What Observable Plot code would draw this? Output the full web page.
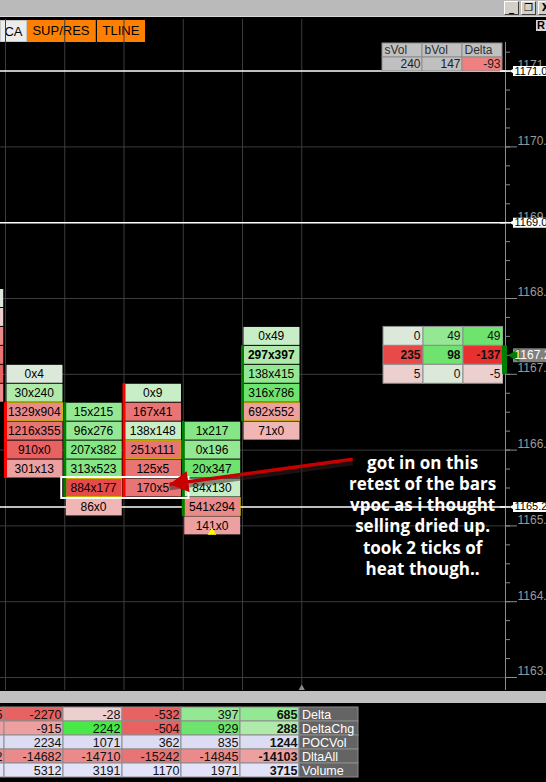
<!DOCTYPE html>
<html><head><meta charset="utf-8">
<script src="https://cdn.jsdelivr.net/npm/d3@7"></script>
<script src="https://cdn.jsdelivr.net/npm/@observablehq/plot@0.6"></script>
<style>
html,body{margin:0;padding:0;background:#000;}
#root{position:relative;width:546px;height:782px;overflow:hidden;background:#000;font-family:"Liberation Sans",Arial,sans-serif;}
.abs{position:absolute;}
#titlebar{left:0;top:0;width:546px;height:17px;background:#bababa;border-bottom:1px solid #d8d8d8;box-sizing:border-box;}
.wbtn{top:1px;width:15px;height:14px;background:#d4d0c8;border:1px solid;border-color:#fff #404040 #404040 #fff;box-sizing:border-box;font:bold 10px "DejaVu Sans",sans-serif;color:#000;text-align:center;line-height:12px;}
.tbtn{top:20px;height:22px;font:13px "Liberation Sans",Arial,sans-serif;color:#000;line-height:22px;text-align:center;box-sizing:border-box;}
#band{left:0;top:691px;width:546px;height:12px;background:#c0c0c0;}
</style></head><body><div id="root">
<div id="titlebar" class="abs"></div>
<div class="abs wbtn" style="left:504px">_</div>
<div class="abs wbtn" style="left:521px">&#x2750;</div>
<div class="abs wbtn" style="left:538px">X</div>
<div class="abs tbtn" style="left:0;width:27px;background:#ececec;border:1px solid #c8c8c8">CA</div>
<div class="abs tbtn" style="left:27px;width:69px;background:#ff8000;border-right:1px solid #c86400">SUP/RES</div>
<div class="abs tbtn" style="left:97px;width:48px;background:#ff8000">TLINE</div>
<div class="abs" style="left:536px;top:20px;width:12px;height:11px;background:#d4d4d4;font:bold 11px 'Liberation Sans',sans-serif;line-height:11px;color:#000;padding-left:1px">R</div>
<div id="band" class="abs"></div>
</div>
<script>
// ---------- data ----------
// footprint cells of the five visible bars (bid x ask at each price)
const cellBar   = [1,1,1,1,1,1, 2,2,2,2,2,2, 3,3,3,3,3,3, 4,4,4,4,4,4, 5,5,5,5,5,5];
const cellPrice = [1167,1166.75,1166.5,1166.25,1166,1165.75,
                   1166.5,1166.25,1166,1165.75,1165.5,1165.25,
                   1166.75,1166.5,1166.25,1166,1165.75,1165.5,
                   1166.25,1166,1165.75,1165.5,1165.25,1165,
                   1167.5,1167.25,1167,1166.75,1166.5,1166.25];
const cellBid   = [0,30,1329,1216,910,301, 15,96,207,313,884,86, 0,167,138,251,125,170, 1,0,20,84,541,141, 0,297,138,316,692,71];
const cellAsk   = [4,240,904,355,0,13, 215,276,382,523,177,0, 9,41,148,111,5,5, 217,196,347,130,294,0, 49,397,415,786,552,0];
// imbalance shade class (r = sell side, g = buy side, n = neutral)
const cellShade = ["n","g2","r3","r4","r5","r2", "g3","g3","g4","g4","r6","r1", "g1","r4","g1","r4","r4","r4",
                   "g4","g3","g5","g1","r3","r2", "g1","g2","g3","g5","r2","r1"];
// partially visible bar at the left edge
const partialPrice = [1168,1167.75,1167.5,1167.25,1167,1166.75];
const partialShade = ["n","r0","r3","r4","r5","r3"];
// bar open / close (the coloured body line at each bar's left edge)
const candleBar   = [1,2,3,4,5];
const candleOpen  = [1166.5,1165.5,1166.75,1165.25,1166.5];
const candleClose = [1165.75,1166.5,1165.5,1166.25,1167.25];
// price lines and current price
const levelPrices = [1171,1169,1165.25];
const currentPrice = 1167.25;
// current bar profile (sVol, bVol)
const profCols  = ["sVol","bVol","Delta"];
const profPrice = [1167.5,1167.25,1167];
const profSVol  = [0,235,5];
const profBVol  = [49,98,0];
const profShade = [["n","g3","g5"],["r6","g5","rx"],["r0","n","r0"]];
// bottom statistics table
const statRows   = ["Delta","DeltaChg","POCVol","DltaAll","Volume"];
const statCols   = ["b0","b1","b2","b3","b4","b5"];
const statDelta    = [-1355,-2270,-28,-532,397,685];
const statDeltaChg = [null,-915,2242,-504,929,288];
const statPOCVol   = [null,2234,1071,362,835,1244];
const statDltaAll  = [-12412,-14682,-14710,-15242,-14845,-14103];
const statVolume   = [null,5312,3191,1170,1971,3715];
const deltaShade    = ["r5","r5","r0","r5","g3","g3"];
const deltaChgShade = ["r2","r2","g6","r5","g5","g2"];
const dltaAllShade  = ["r3","r3","r3","r4","r3","r2"];
// annotation
const noteLines = ["got in on this","retest of the bars","vpoc as i thought","selling dried up.","took 2 ticks of","heat though.."];
const noteAt = {bar: 8.04, price: 1165.955};
const noteArrow = {bar1: 6.86, price1: 1165.88, bar2: 3.77, price2: 1165.55};
const vpocBox = {bar1: 2, bar2: 3, price: 1165.5};

// ---------- scales / styles ----------
const palette = {
  r6:"#e84a4a", r5:"#e86262", r4:"#e87474", r3:"#ea8a8a", r2:"#eda0a0", r1:"#f0b6b6", r0:"#eccfcf", rx:"#e83030",
  n:"#dce8da",
  g1:"#c8eec8", g2:"#b0eaaa", g3:"#94e894", g4:"#84e684", g5:"#6ee46e", g6:"#48e848",
  v1:"#dcdcf2", v2:"#e2e2f8"
};
const colorScale = {type:"ordinal", domain:Object.keys(palette), range:Object.values(palette)};
const yScale = {domain:[1163,1171], range:[677,70.6], axis:null};
const font = "Liberation Sans, Arial, sans-serif";
const root = document.getElementById("root");
function place(el, left, top){ el.style.position="absolute"; el.style.left=left+"px"; el.style.top=top+"px"; root.appendChild(el); }

// ---------- derived ----------
const cells = cellBar.map((bar,i)=>({bar, price:cellPrice[i], bid:cellBid[i], ask:cellAsk[i], shade:cellShade[i]}));
const partial = partialPrice.map((price,i)=>({bar:0, price, shade:partialShade[i]}));
const barIds = [...new Set(cellBar)];
const pocCells = barIds.map(b=>d3.greatest(cells.filter(c=>c.bar===b), c=>c.bid+c.ask));
const lastBar = d3.max(cellBar);
const boldCell = c => c.bar===lastBar && c.price===currentPrice;
const lowCell = d3.least(cells, c=>c.price);
const candles = candleBar.map((bar,i)=>({bar, open:candleOpen[i], close:candleClose[i]}));
const half = 0.125, cw = 0.97;
const gridPrices = d3.range(1163,1172).filter(p=>!levelPrices.includes(p));

// ---------- main footprint chart ----------
const cellOpts = {x1:"bar", x2:d=>d.bar+cw, y1:d=>d.price-half, y2:d=>d.price+half, insetTop:0.5, insetBottom:0.5, insetLeft:1.5};
const main = Plot.plot({
  width:505, height:690, marginTop:19, marginBottom:0, marginLeft:0, marginRight:0,
  x:{domain:[0,6], range:[-54.25,301.25], axis:null},
  y:yScale, color:colorScale,
  style:{background:"transparent", fontFamily:font, fontSize:"12px", overflow:"hidden"},
  marks:[
    Plot.ruleY(gridPrices, {stroke:"#3c3c3c"}),
    Plot.ruleX(d3.range(1,7), {stroke:"#3c3c3c"}),
    Plot.ruleY(levelPrices, {stroke:"#fff", strokeWidth:1.5}),
    Plot.rect(partial, {...cellOpts, fill:"shade"}),
    Plot.rect(cells, {...cellOpts, fill:"shade"}),
    Plot.rect(pocCells, {...cellOpts, fill:"none", stroke:"#c8b400", strokeWidth:1}),
    Plot.text(cells.filter(c=>!boldCell(c)), {x:d=>d.bar+cw/2, y:"price", text:d=>`${d.bid}x${d.ask}`, fill:"#000", fontSize:12}),
    Plot.text(cells.filter(boldCell), {x:d=>d.bar+cw/2, y:"price", text:d=>`${d.bid}x${d.ask}`, fill:"#000", fontSize:12, fontWeight:"bold"}),
    Plot.ruleX(candles.filter(d=>d.close<d.open), {x:"bar", y1:d=>Math.min(d.open,d.close)-half, y2:d=>Math.max(d.open,d.close)+half, stroke:"#ff0000", strokeWidth:3}),
    Plot.ruleX(candles.filter(d=>d.close>=d.open), {x:"bar", y1:d=>Math.min(d.open,d.close)-half, y2:d=>Math.max(d.open,d.close)+half, stroke:"#008000", strokeWidth:3}),
    Plot.dot([lowCell], {x:d=>d.bar+cw/2, y:d=>d.price-half, dy:-3, symbol:"triangle", r:3.2, fill:"#ffff00"}),
    Plot.rect([vpocBox], {x1:"bar1", x2:d=>d.bar2+cw, y1:d=>d.price-half, y2:d=>d.price+half, insetLeft:-3, insetRight:-7.5, insetTop:-1, insetBottom:-1, fill:"none", stroke:"#fff", strokeWidth:2}),
    Plot.link([noteArrow], {x1:"bar1", y1:"price1", x2:"bar2", y2:"price2", stroke:"#3a2020", strokeWidth:6, strokeOpacity:0.5, dy:3}),
    Plot.link([noteArrow], {x1:"bar1", y1:"price1", x2:"bar2", y2:"price2", stroke:"#c40000", strokeWidth:3.5}),
    Plot.dot([noteArrow], {x:"bar2", y:"price2", symbol:"triangle", r:8, rotate:262, dx:12.4, dy:-1.7, fill:"#c80000"}),
    Plot.text([noteLines.join("\n")], {x:()=>noteAt.bar, y:()=>noteAt.price, text:d=>d, lineAnchor:"top", lineHeight:1.25, fontFamily:"Open Sans", fontWeight:"bold", fontSize:17, fill:"#fff"}),
    Plot.dot([6], {x:d=>d, frameAnchor:"bottom", symbol:"triangle", r:2.5, dy:-2, fill:"#8a8a8a"})
  ]
});
place(main, 0, 0);

// ---------- current bar profile table ----------
const prof = [];
profPrice.forEach((price,i)=>{
  const vals = [profSVol[i], profBVol[i], profBVol[i]-profSVol[i]];
  profCols.forEach((col,j)=>prof.push({col, price, value:vals[j], shade:profShade[i][j]}));
});
const profPlot = Plot.plot({
  width:121, height:690, margin:0,
  x:{type:"band", domain:profCols, range:[0.5,120.5], padding:0, axis:null},
  y:yScale, color:colorScale,
  style:{background:"transparent", fontFamily:font, fontSize:"12px", overflow:"hidden"},
  marks:[
    Plot.rect(prof, {x:"col", y1:d=>d.price-half, y2:d=>d.price+half, fill:"shade", stroke:"#8c8c8c"}),
    Plot.text(prof.filter(d=>d.price!==currentPrice), {x:"col", y:"price", text:d=>String(d.value), textAnchor:"end", dx:17, fill:"#111", fontSize:12}),
    Plot.text(prof.filter(d=>d.price===currentPrice), {x:"col", y:"price", text:d=>String(d.value), textAnchor:"end", dx:17, fill:"#111", fontSize:12, fontWeight:"bold"})
  ]
});
place(profPlot, 382, 0);

// ---------- totals table (top right) ----------
const totVals = [d3.sum(profSVol), d3.sum(profBVol), d3.sum(profBVol)-d3.sum(profSVol)];
const totCells = profCols.flatMap((col,j)=>[{col,row:"h",text:col,fill:"#c0c0c0"},{col,row:"v",text:String(totVals[j]),fill:totVals[j]<0?"#f08080":"#c0c0c0"}]);
const totPlot = Plot.plot({
  width:122, height:29, margin:0,
  x:{type:"band", domain:profCols, range:[0.5,121.5], padding:0, axis:null},
  y:{type:"band", domain:["h","v"], range:[0.5,28.5], padding:0, axis:null},
  style:{background:"transparent", fontFamily:font, fontSize:"12px"},
  marks:[
    Plot.cell(totCells, {x:"col", y:"row", fill:"fill", stroke:"#8c8c8c", inset:0}),
    Plot.text(totCells.filter(d=>d.row==="h"), {x:"col", y:"row", text:"text", textAnchor:"start", dx:-18, fill:"#303030", fontSize:12}),
    Plot.text(totCells.filter(d=>d.row==="v"), {x:"col", y:"row", text:"text", textAnchor:"end", dx:18, fill:"#202020", fontSize:12})
  ]
});
place(totPlot, 381, 42);

// ---------- price axis ----------
const minorTicks = d3.range(1162.75, 1171.5, 0.25);
const majorTicks = d3.range(1163, 1172, 1);
const axisPlot = Plot.plot({
  width:46, height:690, marginLeft:5, marginRight:0, marginTop:42, marginBottom:0,
  x:{domain:[0,41], range:[5,46], axis:null},
  y:yScale,
  style:{background:"transparent", fontFamily:font, fontSize:"12px", overflow:"hidden"},
  marks:[
    Plot.ruleX([0], {stroke:"#8a8a8a"}),
    Plot.ruleY(minorTicks, {stroke:"#8a8a8a", insetRight:36}),
    Plot.ruleY(majorTicks, {stroke:"#8a8a8a", insetRight:29}),
    Plot.text(majorTicks, {y:d=>d, text:d=>d.toFixed(2), frameAnchor:"left", textAnchor:"start", dx:12, dy:-6, fill:"#9a9a9a", fontSize:12}),
    Plot.ruleY(levelPrices, {stroke:"#fff", strokeWidth:1.5, insetLeft:-5, insetRight:36}),
    Plot.ruleY(levelPrices, {stroke:"#fff", strokeWidth:10, insetLeft:8}),
    Plot.dot(levelPrices, {y:d=>d, frameAnchor:"left", dx:9.5, symbol:"triangle", rotate:-90, r:3.6, fill:"#fff"}),
    Plot.text(levelPrices, {y:d=>d, text:d=>d.toFixed(2), frameAnchor:"left", textAnchor:"start", dx:9, fill:"#000", fontSize:11}),
    Plot.rect([currentPrice], {y1:d=>d-half-1*half, y2:d=>d+half, insetLeft:-3, insetRight:39, fill:"#008000"}),
    Plot.ruleY([currentPrice], {stroke:"#808080", strokeWidth:14, insetLeft:8}),
    Plot.dot([currentPrice], {y:d=>d, frameAnchor:"left", dx:10, symbol:"triangle", rotate:-90, r:5, fill:"#008000"}),
    Plot.text([currentPrice], {y:d=>d, text:d=>d.toFixed(2), frameAnchor:"left", textAnchor:"start", dx:9, fill:"#fff", fontSize:12})
  ]
});
place(axisPlot, 500, 0);

// ---------- statistics table (bottom) ----------
const statSeries = [
  {row:"Delta", vals:statDelta, shade:deltaShade},
  {row:"DeltaChg", vals:statDeltaChg, shade:deltaChgShade},
  {row:"POCVol", vals:statPOCVol, shade:statCols.map(()=>"v1")},
  {row:"DltaAll", vals:statDltaAll, shade:dltaAllShade},
  {row:"Volume", vals:statVolume, shade:statCols.map(()=>"v2")}
];
const stat = statSeries.flatMap(s=>statCols.map((col,i)=>({row:s.row, col, value:s.vals[i], shade:s.shade[i]})));
const lastCol = statCols[statCols.length-1];
const statPlot = Plot.plot({
  width:359, height:75, margin:0,
  x:{type:"band", domain:[...statCols,"label"], range:[-55.3,358.5], padding:0, axis:null},
  y:{type:"band", domain:statRows, range:[0.5,74.5], padding:0, axis:null},
  color:colorScale,
  style:{background:"transparent", fontFamily:font, fontSize:"12px", overflow:"hidden"},
  marks:[
    Plot.cell(stat, {x:"col", y:"row", fill:"shade", stroke:"#8c8c8c", inset:0}),
    Plot.cell(statRows, {x:()=>"label", y:d=>d, fill:"#646464", stroke:"#8c8c8c", inset:0}),
    Plot.text(stat.filter(d=>d.value!=null && d.col!==lastCol), {x:"col", y:"row", text:d=>String(d.value), textAnchor:"end", dx:27.5, fill:"#111", fontSize:12.5}),
    Plot.text(stat.filter(d=>d.value!=null && d.col===lastCol), {x:"col", y:"row", text:d=>String(d.value), textAnchor:"end", dx:27.5, fill:"#111", fontSize:12.5, fontWeight:"bold"}),
    Plot.text(statRows, {x:()=>"label", y:d=>d, text:d=>d, textAnchor:"start", dx:-27, fill:"#fff", fontSize:12.5})
  ]
});
place(statPlot, 0, 704);
</script></body></html>
